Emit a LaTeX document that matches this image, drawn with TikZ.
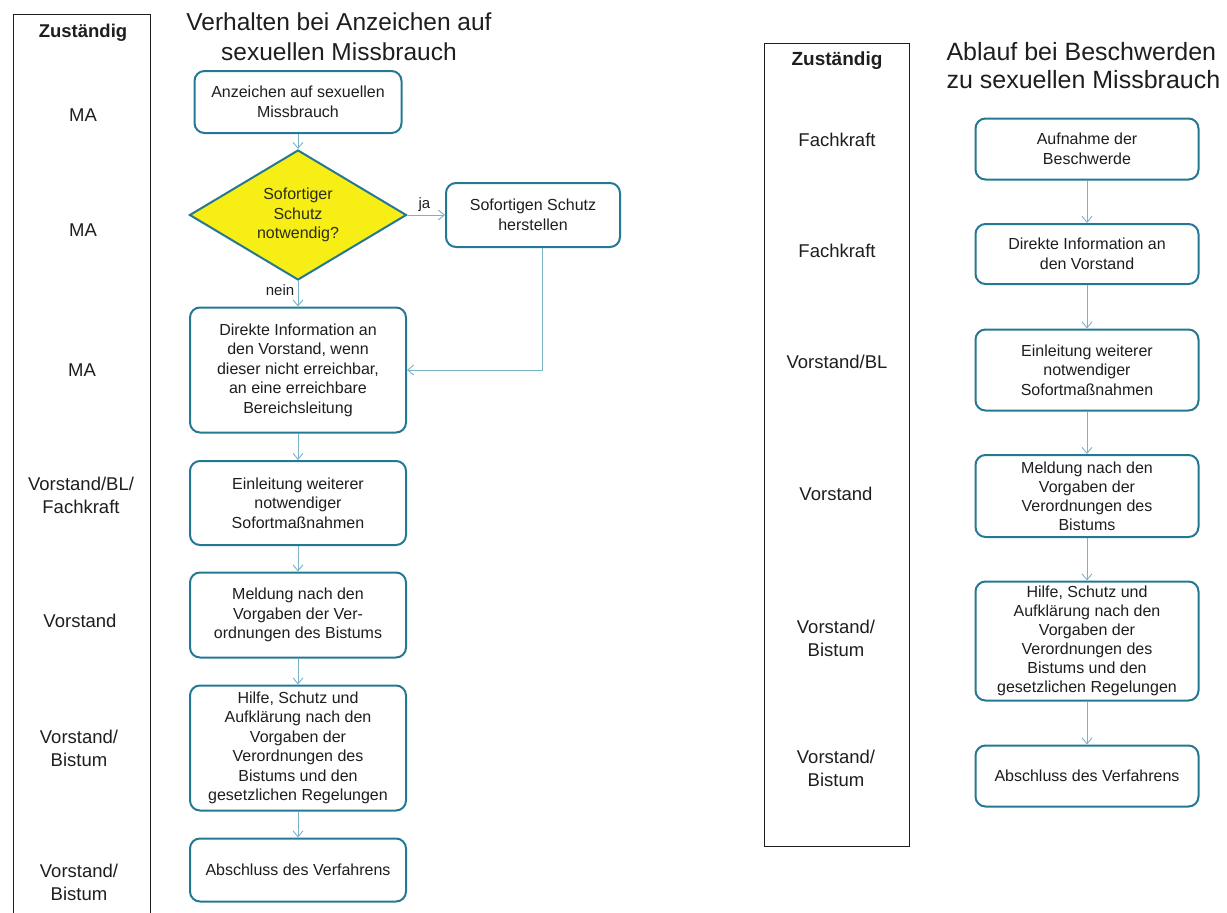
\documentclass[tikz,border=0pt]{standalone}
\usepackage{fontspec}
\setmainfont{Liberation Sans}
\usetikzlibrary{shapes.geometric,arrows.meta}
\definecolor{rahmen}{RGB}{36,120,148}
\definecolor{linie}{RGB}{122,178,198}
\definecolor{gelb}{RGB}{246,238,20}
\definecolor{schrift}{RGB}{30,30,30}

\begin{document}
\begin{tikzpicture}[x=1pt,y=-1pt,
        kasten/.style={draw=rahmen,line width=2pt,rounded corners=10pt,fill=white,align=center,inner sep=2pt,text=schrift,font=\fontsize{16}{19.5}\selectfont},
        raute/.style={diamond,draw=rahmen,line width=2pt,fill=gelb,aspect=1.67,inner sep=0pt,align=center,text=schrift!85!olive,minimum width=217pt,minimum height=130pt,font=\fontsize{16}{19.5}\selectfont},
        rolle/.style={align=center,text=schrift,font=\fontsize{18.5}{23}\selectfont},
        titel/.style={text=schrift,font=\fontsize{24.5}{30}\selectfont},
        pfeil/.style={draw=linie,line width=0.9pt,-{Straight Barb[length=6pt,width=10pt]}},
        marke/.style={text=schrift,font=\fontsize{15}{18}\selectfont}]

    \useasboundingbox (0,0) rectangle (1227,913);

    % linke Seite
    \draw[schrift,line width=1pt] (13,913) -- (13,14) -- (150,14) -- (150,913);
    \node[rolle,font=\fontsize{18.5}{23}\selectfont\bfseries] (zust1) at (83,33) {Zuständig};
    \node[rolle] (ma1) at (83,115) {MA};
    \node[rolle] (ma2) at (83,230) {MA};
    \node[rolle] (ma3) at (82,370) {MA};
    \node[rolle] (vbf) at (81,495) {Vorstand/BL/\\Fachkraft};
    \node[rolle] (vor1) at (80,621) {Vorstand};
    \node[rolle] (vbi1) at (79,748) {Vorstand/\\Bistum};
    \node[rolle] (vbi2) at (79,882) {Vorstand/\\Bistum};

    \node[titel,align=center] (titel1) at (339,37) {Verhalten bei Anzeichen auf\\sexuellen Missbrauch};

    \node[kasten,minimum width=207pt,minimum height=62pt] (anz) at (298,102) {Anzeichen auf sexuellen\\Missbrauch};
    \node[raute] (frage) at (298,215) {Sofortiger\\Schutz\\notwendig?};
    \node[kasten,minimum width=174pt,minimum height=64pt] (schutz) at (533,215) {Sofortigen Schutz\\herstellen};
    \node[kasten,minimum width=216pt,minimum height=125pt] (info) at (298,370) {Direkte Information an\\den Vorstand, wenn\\dieser nicht erreichbar,\\an eine erreichbare\\Bereichsleitung};
    \node[kasten,minimum width=216pt,minimum height=84pt] (einl) at (298,503) {Einleitung weiterer\\notwendiger\\Sofortmaßnahmen};
    \node[kasten,minimum width=216pt,minimum height=85pt] (meld) at (298,615) {Meldung nach den\\Vorgaben der Ver-\\ordnungen des Bistums};
    \node[kasten,minimum width=216pt,minimum height=125pt] (hilfe) at (298,748) {Hilfe, Schutz und\\Aufklärung nach den\\Vorgaben der\\Verordnungen des\\Bistums und den\\gesetzlichen Regelungen};
    \node[kasten,minimum width=216pt,minimum height=63pt] (abschl) at (298,870) {Abschluss des Verfahrens};

    \draw[pfeil] (anz) -- (frage);
    \draw[pfeil] (frage) -- node[marke,above,pos=0.45] {ja} (schutz);
    \draw[pfeil] (frage) -- node[marke,left,pos=0.35] {nein} (info);
    \draw[pfeil] ([xshift=9pt]schutz.south) |- (info.east);
    \foreach \a/\b in {info/einl,einl/meld,meld/hilfe,hilfe/abschl}
        \draw[pfeil] (\a) -- (\b);

    % rechte Seite
    \draw[schrift,line width=1pt] (764,43) rectangle (909,846);
    \node[rolle,font=\fontsize{19}{23}\selectfont\bfseries] (zust2) at (837,61) {Zuständig};
    \node[rolle] (fk1) at (837,140) {Fachkraft};
    \node[rolle] (fk2) at (837,251) {Fachkraft};
    \node[rolle] (vbl) at (837,362) {Vorstand/BL};
    \node[rolle] (vor2) at (836,494) {Vorstand};
    \node[rolle] (vbi3) at (836,638) {Vorstand/\\Bistum};
    \node[rolle] (vbi4) at (836,768) {Vorstand/\\Bistum};

    \node[titel,align=left,anchor=west,font=\fontsize{25}{28}\selectfont] (titel2) at (943,66) {Ablauf bei Beschwerden\\zu sexuellen Missbrauch};

    \node[kasten,minimum width=223pt,minimum height=61pt] (aufn) at (1087,149) {Aufnahme der\\Beschwerde};
    \node[kasten,minimum width=223pt,minimum height=60pt] (dinf) at (1087,254) {Direkte Information an\\den Vorstand};
    \node[kasten,minimum width=223pt,minimum height=81pt] (einl2) at (1087,370) {Einleitung weiterer\\notwendiger\\Sofortmaßnahmen};
    \node[kasten,minimum width=223pt,minimum height=82pt,font=\fontsize{16}{19}\selectfont] (meld2) at (1087,496) {Meldung nach den\\Vorgaben der\\Verordnungen des\\Bistums};
    \node[kasten,minimum width=223pt,minimum height=119pt,font=\fontsize{16}{19}\selectfont] (hilfe2) at (1087,641) {Hilfe, Schutz und\\Aufklärung nach den\\Vorgaben der\\Verordnungen des\\Bistums und den\\gesetzlichen Regelungen};
    \node[kasten,minimum width=223pt,minimum height=61pt] (abschl2) at (1087,776) {Abschluss des Verfahrens};

    \foreach \a/\b in {aufn/dinf,dinf/einl2,einl2/meld2,meld2/hilfe2,hilfe2/abschl2}
        \draw[pfeil] (\a) -- (\b);
\end{tikzpicture}
\end{document}
